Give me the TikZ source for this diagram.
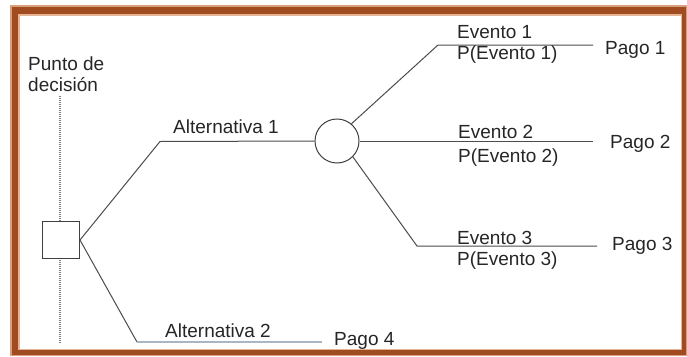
\documentclass[tikz,border=0pt]{standalone}
\usepackage{fontspec}
\setmainfont{Liberation Sans}
\definecolor{frameout}{HTML}{D8A07C}
\definecolor{framemid}{HTML}{A04C20}
\definecolor{framein}{HTML}{E6B394}
\definecolor{altline}{HTML}{A9B6C4}
\begin{document}
\begin{tikzpicture}[x=1pt,y=-1pt,
  lbl/.style={inner sep=0pt,anchor=base west,font=\fontsize{19}{22}\selectfont,text=black!85},
  branch/.style={draw=black!70,line width=1pt},
  decbox/.style={draw=black!75,line width=1pt,minimum size=37pt,inner sep=0pt},
  chance/.style={draw=black!75,line width=1pt,circle,minimum size=44pt,inner sep=0pt}]
\useasboundingbox (0,0) rectangle (687,356);
% bevelled brown frame
\fill[frameout] (10,5) rectangle (687,356);
\fill[framemid] (12,7) rectangle (686,355);
\fill[framein] (18,14) rectangle (682,350);
\fill[white] (20,16) rectangle (681,349);
% decision point marker
\node[lbl] (pd1) at (28,70) {Punto de};
\node[lbl] (pd2) at (28,91) {decisión};
\coordinate (dtop) at (60,96);
\coordinate (dbot) at (60,344);
\draw[black!50,line width=1.1pt,dash pattern=on 1pt off 1pt] (dtop) -- (dbot);
% nodes
\node[decbox,fill=white] (dec) at (61,240) {};
\node[chance] (ch) at (337,141) {};
% alternative 1
\coordinate (a1) at (160,141.5);
\draw[branch] (dec.east) -- (a1) -- (ch.west);
\node[lbl] (alt1) at (173,133) {Alternativa 1};
% alternative 2
\coordinate (a2) at (137,342);
\coordinate (a2e) at (322,342);
\draw[branch] (dec.east) -- (a2);
\draw[draw=altline,line width=1.3pt] (a2) -- (a2e);
\node[lbl] (alt2) at (165,337) {Alternativa 2};
\node[lbl] (p4) at (334,345) {Pago 4};
% events
\coordinate (e1) at (438,45);
\coordinate (e1e) at (593,45);
\draw[branch] (ch.50) -- (e1) -- (e1e);
\node[lbl] (ev1) at (457,38) {Evento 1};
\node[lbl] (pe1) at (457,59) {P(Evento 1)};
\node[lbl] (p1) at (605,54) {Pago 1};
\coordinate (e2e) at (593,141);
\draw[branch] (ch.east) -- (e2e);
\node[lbl] (ev2) at (458,138) {Evento 2};
\node[lbl] (pe2) at (458,162) {P(Evento 2)};
\node[lbl] (p2) at (610,148) {Pago 2};
\coordinate (e3) at (417,246);
\coordinate (e3e) at (597,246);
\draw[branch] (ch.-45) -- (e3) -- (e3e);
\node[lbl] (ev3) at (457,244) {Evento 3};
\node[lbl] (pe3) at (457,265) {P(Evento 3)};
\node[lbl] (p3) at (612,250) {Pago 3};
\end{tikzpicture}
\end{document}
